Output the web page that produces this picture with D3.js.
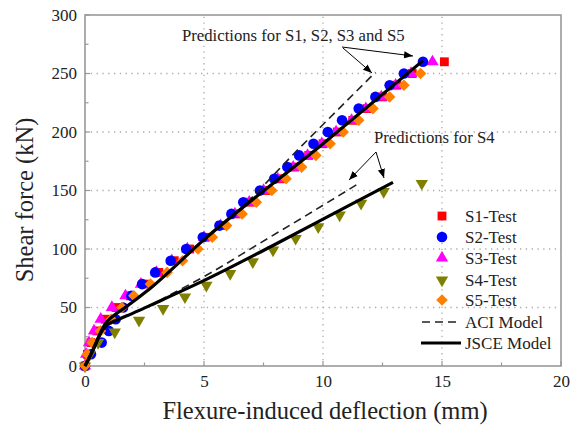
<!DOCTYPE html>
<html><head><meta charset="utf-8">
<script src="https://cdn.jsdelivr.net/npm/d3@7"></script>
<style>body{margin:0;background:#fff}text{font-family:"Liberation Serif","Times New Roman",serif}</style>
</head><body><svg id="c" width="571" height="430"></svg>
<script>
// Data (deflection mm, shear kN)
const s1Test = [[0,0],[0.1,10],[0.25,20],[0.5,30],[0.85,40],[1.3,50],[1.9,60],[2.5,70],[3.1,80],[3.75,90],[4.4,100],[5.05,110],[5.7,120],[6.35,130],[6.95,140],[7.6,150],[8.2,160],[8.8,170],[9.4,180],[10.0,190],[10.6,200],[11.25,210],[11.85,220],[12.5,230],[13.1,240],[13.75,250],[15.1,260]];
const s2Test = [[0,0],[0.25,10],[0.7,20],[1.0,30],[1.29,40],[1.6,50],[1.95,60],[2.4,70],[2.95,80],[3.6,90],[4.25,100],[4.95,110],[5.65,120],[6.15,130],[6.65,140],[7.35,150],[7.95,160],[8.5,170],[9.0,180],[9.6,190],[10.2,200],[10.8,210],[11.5,220],[12.2,230],[12.8,240],[13.4,250],[14.2,260]];
const s3Test = [[0,0],[0.05,10],[0.17,20],[0.38,30],[0.66,40],[1.13,50],[1.7,60],[2.35,70],[3.0,80],[3.65,90],[4.3,100],[5.0,110],[5.7,120],[6.3,130],[6.9,140],[7.5,150],[8.1,160],[8.75,170],[9.35,180],[9.95,190],[10.55,200],[11.2,210],[11.8,220],[12.45,230],[13.05,240],[13.7,250],[14.6,260]];
const s4Test = [[0,0],[0.2,10],[0.55,20],[1.25,29],[2.27,39],[3.28,49],[4.2,59],[5.1,69],[6.1,79],[7.05,89],[7.9,99],[8.85,109],[9.8,119],[10.7,129],[11.6,139],[12.55,149],[14.15,156]];
const s5Test = [[0,0],[0.1,10],[0.3,20],[0.65,30],[1.1,40],[1.55,50],[2.05,60],[2.75,70],[3.45,80],[4.1,90],[4.75,100],[5.35,110],[5.95,120],[6.6,130],[7.2,140],[7.85,150],[8.45,160],[9.1,170],[9.7,180],[10.3,190],[10.85,200],[11.5,210],[12.1,220],[12.8,230],[13.4,240],[14.1,250]];
const aciUpper = [[0,0],[0.25,10],[0.52,22],[0.7,30.5],[0.85,36],[1.0,39.5],[1.2,43],[1.76,51],[2.6,64],[5,108],[6,124.5],[9,186],[12.2,251]];
const aciS4 = [[0,0],[0.25,10],[0.45,19],[0.6,26],[0.75,31],[0.9,34.5],[1.1,37],[1.4,39.8],[2,45],[2.76,52],[3.5,60],[5.4,81],[7.35,105],[9.16,127],[11.5,156]];
const jsceUpper = [[0,0],[0.25,10],[0.52,22],[0.7,30.5],[0.85,36],[1.0,39.5],[1.2,43],[1.76,51],[2.6,64],[5,108],[10,190],[14.2,261]];
const jsceS4 = [[0,0],[0.25,10],[0.45,19],[0.6,26],[0.75,31],[0.9,34.5],[1.1,37],[1.4,39.8],[2,45],[2.76,52],[5.1,74],[7.9,103],[10.7,133],[12.94,157]];
const xTicks = [0,5,10,15,20];
const yTicks = [0,50,100,150,200,250,300];
const legendLabels = ["S1-Test","S2-Test","S3-Test","S4-Test","S5-Test","ACI Model","JSCE Model"];

const svg = d3.select("#c");
const x = d3.scaleLinear().domain([0,20]).range([85,561]);
const y = d3.scaleLinear().domain([0,300]).range([366,15]);
const grey = "#999";

// grid
const g = svg.append("g");
[5,10,15].forEach(v=>g.append("line").attr("x1",x(v)).attr("x2",x(v)).attr("y1",y(0)).attr("y2",y(300))
  .attr("stroke","#aaa").attr("stroke-width",1.3).attr("stroke-dasharray","1.3,4.5"));
[50,100,150,200,250].forEach(v=>g.append("line").attr("x1",x(0)).attr("x2",x(20)).attr("y1",y(v)).attr("y2",y(v))
  .attr("stroke","#aaa").attr("stroke-width",1.3).attr("stroke-dasharray","1.3,4.5"));

// axes
const xAxis = d3.axisBottom(x).tickValues(xTicks).tickSize(0).tickPadding(9).tickFormat(d3.format("d"));
const yAxis = d3.axisLeft(y).tickValues(yTicks).tickSize(0).tickPadding(8).tickFormat(d3.format("d"));
const gx = svg.append("g").attr("transform",`translate(0,${y(0)})`).call(xAxis);
const gy = svg.append("g").attr("transform",`translate(${x(0)},0)`).call(yAxis);
[gx,gy].forEach(a=>{a.select(".domain").remove();a.selectAll("text").attr("font-size",17).attr("fill","#222")
  .style("font-family","'Liberation Serif',serif");});
// inner ticks
d3.range(0,20.01,2.5).forEach(v=>{const major=v%5===0;svg.append("line").attr("x1",x(v)).attr("x2",x(v))
  .attr("y1",y(0)).attr("y2",y(0)-(major?5:3.5)).attr("stroke",grey).attr("stroke-width",1.2);});
d3.range(0,300.01,25).forEach(v=>{const major=v%50===0;svg.append("line").attr("y1",y(v)).attr("y2",y(v))
  .attr("x1",x(0)).attr("x2",x(0)+(major?5:3.5)).attr("stroke",grey).attr("stroke-width",1.2);});
svg.append("rect").attr("x",x(0)).attr("y",y(300)).attr("width",x(20)-x(0)).attr("height",y(0)-y(300))
  .attr("fill","none").attr("stroke",grey).attr("stroke-width",1.6);

// markers
const sym = {
  square: d3.symbol().type(d3.symbolSquare).size(78)(),
  circle: d3.symbol().type(d3.symbolCircle).size(88)(),
  tri: d3.symbol().type(d3.symbolTriangle).size(66)(),
  diamond: "M0,-5.8L5.8,0L0,5.8L-5.8,0Z"
};
function markers(data, path, color, rot){
  svg.append("g").selectAll("path").data(data).join("path")
    .attr("d", path).attr("fill", color)
    .attr("transform", d=>`translate(${x(d[0])},${y(d[1])})${rot?" rotate(180)":""}`);
}
markers(s1Test, sym.square, "#ff0000");
markers(s3Test, sym.tri, "#ff00ff");
markers(s2Test, sym.circle, "#0000ff");
markers(s4Test, sym.tri, "#808000", true);
markers(s5Test, sym.diamond, "#ff8000");

// lines
const line = d3.line().x(d=>x(d[0])).y(d=>y(d[1])).curve(d3.curveMonotoneX);
[aciUpper, aciS4].forEach(dt=>svg.append("path").attr("d",line(dt)).attr("fill","none")
  .attr("stroke","#222").attr("stroke-width",1.6).attr("stroke-dasharray","8,5"));
[jsceUpper, jsceS4].forEach(dt=>svg.append("path").attr("d",line(dt)).attr("fill","none")
  .attr("stroke","#000").attr("stroke-width",3.2).attr("stroke-linejoin","round"));

// annotations
svg.append("defs").append("marker").attr("id","ah").attr("viewBox","0 0 10 10").attr("refX",10).attr("refY",5)
  .attr("markerWidth",9).attr("markerHeight",9).attr("markerUnits","userSpaceOnUse").attr("orient","auto")
  .append("path").attr("d","M0,1 L10,5 L0,9 Z").attr("fill","#000");
function arrow(x1,y1,x2,y2){svg.append("line").attr("x1",x1).attr("y1",y1).attr("x2",x2).attr("y2",y2)
  .attr("stroke","#000").attr("stroke-width",1).attr("marker-end","url(#ah)");}
svg.append("text").attr("x",182).attr("y",41).attr("font-size",16.7).attr("fill","#222")
  .text("Predictions for S1, S2, S3 and S5");
arrow(342,47,413,56); arrow(343,48,372,73);
svg.append("text").attr("x",374).attr("y",143).attr("font-size",16.7).attr("fill","#222").text("Predictions for S4");
arrow(376,152,349,180); arrow(376,152,384,178);

// legend
const legRows = [216,237,258,280,300,322,343];
const legShapes = [[sym.square,"#ff0000",false],[sym.circle,"#0000ff",false],[sym.tri,"#ff00ff",false],
  [sym.tri,"#808000",true],[sym.diamond,"#ff8000",false]];
legShapes.forEach((s,i)=>svg.append("path").attr("d",s[0]).attr("fill",s[1])
  .attr("transform",`translate(442,${legRows[i]})${s[2]?" rotate(180)":""}`));
svg.append("line").attr("x1",422).attr("x2",460).attr("y1",legRows[5]).attr("y2",legRows[5])
  .attr("stroke","#222").attr("stroke-width",1.6).attr("stroke-dasharray","8,5");
svg.append("line").attr("x1",421).attr("x2",461).attr("y1",legRows[6]).attr("y2",legRows[6])
  .attr("stroke","#000").attr("stroke-width",3.2);
legendLabels.forEach((t,i)=>svg.append("text").attr("x",465).attr("y",legRows[i]+6).attr("font-size",17)
  .attr("fill","#222").text(t));

// axis titles
svg.append("text").attr("x",325).attr("y",419).attr("text-anchor","middle").attr("font-size",24.5)
  .attr("fill","#222").text("Flexure-induced deflection (mm)");
svg.append("text").attr("transform","translate(33,200) rotate(-90)").attr("text-anchor","middle")
  .attr("font-size",24.5).attr("fill","#222").text("Shear force (kN)");
</script></body></html>
